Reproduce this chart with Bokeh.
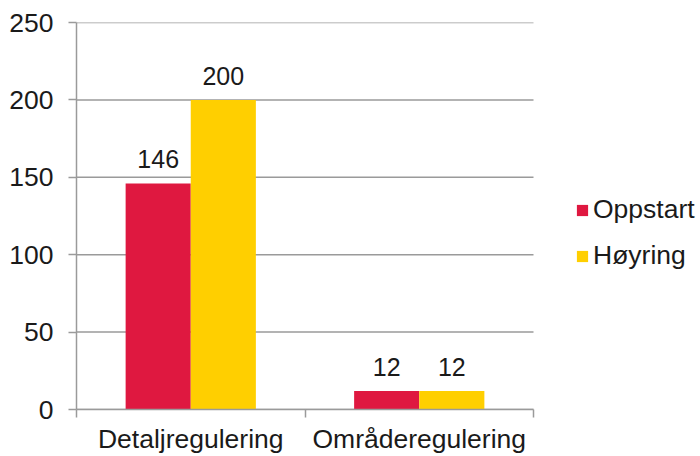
from bokeh.plotting import figure
from bokeh.models import Range1d, FixedTicker, ColumnDataSource, Legend, LegendItem
from bokeh.core.properties import value
from bokeh.transform import dodge
from bokeh.embed import file_html
from bokeh.resources import INLINE

categories = ["Detaljregulering", "Områderegulering"]
series = ["Oppstart", "Høyring"]
oppstart = [146, 12]
hoyring = [200, 12]
y_ticks = [0, 50, 100, 150, 200, 250]
colors = ["#DF1840", "#FFCF00"]

FONT = "Liberation Sans"
TXT = "#1a1a1a"
GRID = "#9a9a9a"
FS = "26.5px"

n = len(categories)
xs = [i + 0.5 for i in range(n)]
src = ColumnDataSource(dict(x=xs, oppstart=oppstart, hoyring=hoyring,
                            lab_o=[str(v) for v in oppstart],
                            lab_h=[str(v) for v in hoyring]))

# plot area 457px for the categories; frame extended to the right for the legend
x_end = n * 624 / 457
p = figure(frame_width=624, frame_height=387, output_backend="svg", toolbar_location=None,
           x_range=Range1d(0, x_end), y_range=Range1d(0, 250),
           min_border_left=76, min_border_right=0, min_border_top=22, min_border_bottom=47)
p.outline_line_color = None
p.background_fill_color = "white"

# horizontal grid lines limited to the category area
p.segment(x0=0, x1=n, y0=y_ticks, y1=y_ticks, line_color=GRID, line_width=1.5)

bw = 0.285
r1 = p.vbar(x=dodge("x", -bw / 2, range=p.x_range), top="oppstart", width=bw, source=src,
            fill_color=colors[0], line_color=None)
r2 = p.vbar(x=dodge("x", bw / 2, range=p.x_range), top="hoyring", width=bw, source=src,
            fill_color=colors[1], line_color=None)

for col, lab, off in (("oppstart", "lab_o", -bw / 2), ("hoyring", "lab_h", bw / 2)):
    p.text(x=dodge("x", off, range=p.x_range), y=col, text=lab, source=src,
           text_align="center", text_baseline="alphabetic", y_offset=-24,
           text_font=value(FONT), text_font_size="25px", text_color=TXT)

# y axis
p.yaxis.ticker = FixedTicker(ticks=y_ticks)
p.yaxis.axis_line_color = GRID
p.yaxis.axis_line_width = 1.5
p.yaxis.major_tick_line_color = GRID
p.yaxis.major_tick_line_width = 1.5
p.yaxis.major_tick_out = 8
p.yaxis.major_tick_in = 0
p.yaxis.minor_tick_line_color = None
p.yaxis.major_label_standoff = 15
p.yaxis.major_label_text_font = FONT
p.yaxis.major_label_text_font_size = FS
p.yaxis.major_label_text_color = TXT

# x axis
p.xaxis.bounds = (0, n)
p.xaxis.ticker = FixedTicker(ticks=xs, minor_ticks=list(range(n + 1)))
p.xaxis.major_label_overrides = {x: c for x, c in zip(xs, categories)}
p.xaxis.axis_line_color = GRID
p.xaxis.axis_line_width = 1.5
p.xaxis.major_tick_line_color = None
p.xaxis.major_tick_out = 0
p.xaxis.major_tick_in = 0
p.xaxis.minor_tick_line_color = GRID
p.xaxis.minor_tick_line_width = 1.5
p.xaxis.minor_tick_out = 8
p.xaxis.minor_tick_in = 0
p.xaxis.major_label_standoff = 6
p.xaxis.major_label_text_font = FONT
p.xaxis.major_label_text_font_size = FS
p.xaxis.major_label_text_color = TXT

p.xgrid.grid_line_color = None
p.ygrid.grid_line_color = None

legend = Legend(items=[LegendItem(label=series[0], renderers=[r1]),
                       LegendItem(label=series[1], renderers=[r2])],
                location=(499, 138))
legend.border_line_color = None
legend.background_fill_alpha = 0
legend.glyph_width = 14
legend.glyph_height = 14
legend.label_standoff = 4
legend.label_height = 30
legend.spacing = 15
legend.padding = 0
legend.margin = 0
legend.label_text_font = FONT
legend.label_text_font_size = FS
legend.label_text_color = TXT
p.add_layout(legend, "center")

open("out.html", "w").write(file_html(p, INLINE))
